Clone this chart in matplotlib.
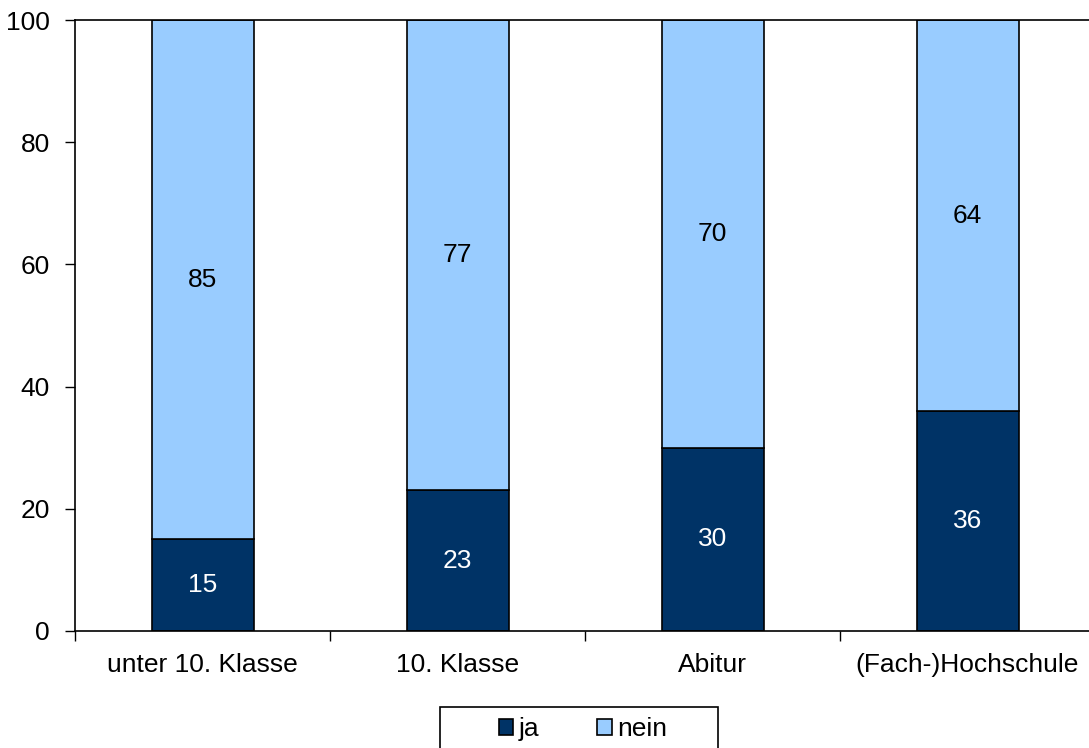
import matplotlib
matplotlib.use("Agg")
import matplotlib.pyplot as plt
from matplotlib.patches import Rectangle
import numpy as np

categories = ["unter 10. Klasse", "10. Klasse", "Abitur", "(Fach-)Hochschule"]
ja = [15, 23, 30, 36]
nein = [85, 77, 70, 64]
yticks = [0, 20, 40, 60, 80, 100]

plt.rcParams['font.family'] = ['Liberation Sans', 'DejaVu Sans']
FS = 19

W, H = 1089, 748
fig = plt.figure(figsize=(W / 100, H / 100), dpi=100)
ax = fig.add_axes([75 / W, (H - 631) / H, 1020 / W, 611 / H])

x = np.arange(len(categories))
width = 0.4
b1 = ax.bar(x, ja, width, color="#003366", edgecolor="black", linewidth=1.2, label="ja")
b2 = ax.bar(x, nein, width, bottom=ja, color="#99CCFF", edgecolor="black", linewidth=1.2, label="nein")

for xi, v in zip(x, ja):
    ax.text(xi, v / 2, str(v), ha="center", va="center", color="white", fontsize=FS)
for xi, b, v in zip(x, ja, nein):
    ax.text(xi, b + v / 2, str(v), ha="center", va="center", color="black", fontsize=FS)

ax.set_xlim(-0.5, len(categories) - 0.5)
ax.set_ylim(0, 100)
ax.set_yticks(yticks)
ax.tick_params(axis="y", labelsize=FS, length=7, width=1, direction="out", pad=11)

# category labels centred under bars, ticks at the category boundaries
ax.set_xticks(x)
ax.set_xticklabels(categories, fontsize=FS)
ax.tick_params(axis="x", which="major", length=0, pad=16)
ax.set_xticks(np.arange(len(categories) + 1) - 0.5, minor=True)
ax.tick_params(axis="x", which="minor", length=7, width=1, direction="out")

for s in ["left", "bottom", "top"]:
    ax.spines[s].set_linewidth(1.2)
ax.spines["right"].set_visible(False)

# legend entries, with a separate box around them
fig.legend(handles=[b1, b2], labels=["ja", "nein"], loc="center",
           bbox_to_anchor=(583 / W, 1 - 729 / H), ncol=2, fontsize=FS,
           frameon=False, handlelength=0.55, handleheight=0.55,
           handletextpad=0.2, columnspacing=2.2, borderpad=0, borderaxespad=0)
fig.patches.append(Rectangle((440 / W, 0), (718 - 440) / W, 1 - 707 / H - 0 + 0.0,
                             transform=fig.transFigure, fill=False,
                             edgecolor="black", linewidth=1.2))
fig.patches[-1].set_y(-10 / H)
fig.patches[-1].set_height((H - 707 + 10) / H)

fig.savefig("out.png", dpi=100)
